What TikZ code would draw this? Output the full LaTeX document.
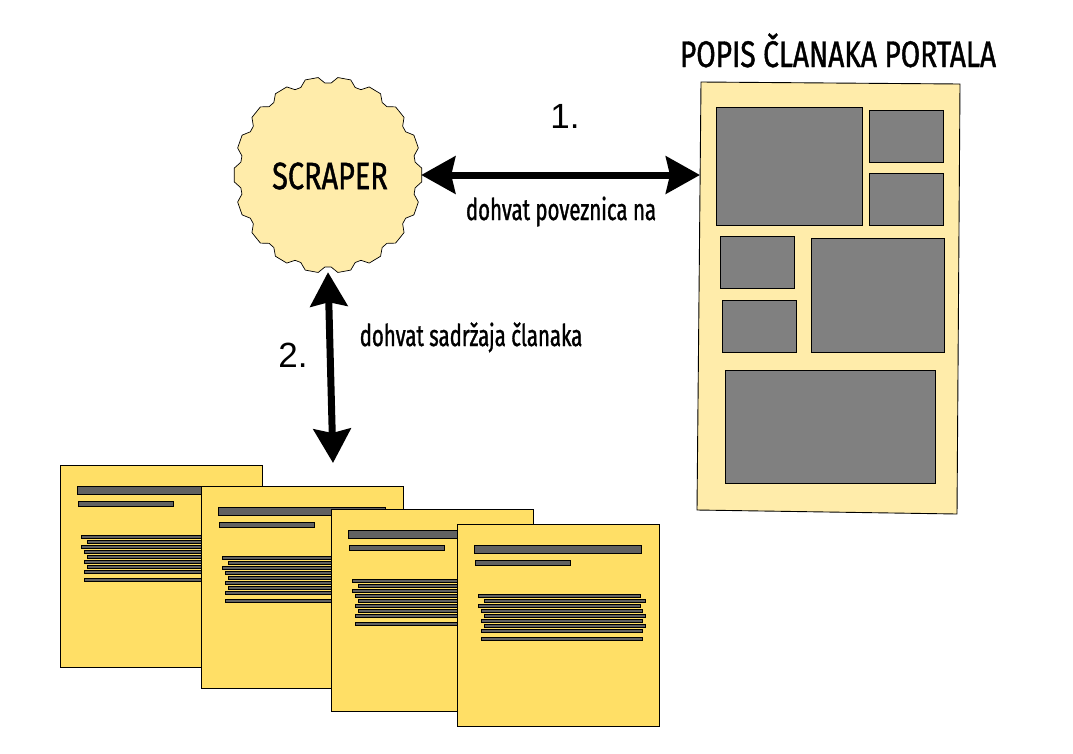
\documentclass[tikz,border=0pt]{standalone}
\usepackage{fontspec}
\usetikzlibrary{arrows.meta,shapes.geometric,calc}
\newfontfamily\headfont{Fira Sans}[FakeStretch=0.68,FakeBold=1.1]
\newfontfamily\capfont{Fira Sans}[FakeStretch=0.76,FakeBold=1.1]
\newfontfamily\numfont{Liberation Sans}
\definecolor{paleyellow}{HTML}{FFECAA}
\definecolor{docyellow}{HTML}{FFDF66}
\definecolor{blockgray}{HTML}{808080}
\definecolor{bargray}{HTML}{616161}

\tikzset{
  bigarrow/.style={line width=7pt,
    {Stealth[length=34pt,width=37pt,inset=4pt]}-{Stealth[length=34pt,width=37pt,inset=4pt]}},
  block/.style={draw=black, fill=blockgray, line width=0.9pt},
  pagebox/.style={draw=black, fill=docyellow, line width=1pt, minimum width=202pt,
    minimum height=202pt, anchor=north west, inner sep=0pt},
  bar/.style={draw=black, fill=bargray, line width=0.8pt},
  headtext/.style={font=\capfont\fontsize{37}{37}\selectfont, anchor=base, inner sep=0pt},
  smalltext/.style={font=\headfont\fontsize{30}{30}\selectfont, anchor=base, inner sep=0pt},
  numtext/.style={font=\numfont\fontsize{35}{35}\selectfont, anchor=base, inner sep=0pt},
}

% one article page with its title, subtitle and text lines
\newcommand{\docpage}[3]{%
  \node[pagebox] (#1) at (#2,#3) {};
  \begin{scope}[shift={(#1.north west)}]
    \draw[bar] (17,21) rectangle (184,29);
    \draw[bar] (18,36) rectangle (113,41);
    \foreach \ly/\la/\lb in {70/21/183, 75/27/188, 80/21/183, 85/24/185, 90/27/188,
                             95/24/185, 100/27/188, 105/24/185, 113/24/185}
      \draw[bar] (\la,\ly) rectangle (\lb,\ly+3);
  \end{scope}}

\begin{document}
\begin{tikzpicture}[x=1pt,y=-1pt]
\useasboundingbox (0,0) rectangle (1073,753);

% scraper: toothed disc
\draw[fill=paleyellow, line width=0.7pt] ({328+94*cos(-4)},{175+98*sin(-4)})
  \foreach \k in {0,...,17} {
    -- ({328+94*cos(\k*20+4)},{175+98*sin(\k*20+4)})
    -- ({328+88*cos(\k*20+8)},{175+92*sin(\k*20+8)})
    -- ({328+88*cos(\k*20+12)},{175+92*sin(\k*20+12)})
    -- ({328+94*cos(\k*20+16)},{175+98*sin(\k*20+16)})
  } -- cycle;
\node[ellipse, minimum width=186pt, minimum height=194pt, inner sep=0pt] (scraper) at (328,175) {};
\node[font=\capfont\fontsize{38}{38}\selectfont, inner sep=0pt] (scrapertext) at (330,176) {SCRAPER};

% article list page of the portal
\draw[fill=paleyellow, line width=0.9pt] (701,82) -- (960,84) -- (957,514) -- (697,510) -- cycle;
\node[minimum width=260pt, minimum height=430pt, anchor=north west, inner sep=0pt] (portal) at (700,82) {};
\draw[block] (716,107) rectangle (862,225);
\draw[block] (869,110) rectangle (943,162);
\draw[block] (869,173) rectangle (943,225);
\draw[block] (720,236) rectangle (794,288);
\draw[block] (722,300) rectangle (796,352);
\draw[block] (811,238) rectangle (944,352);
\draw[block] (725,370) rectangle (935,483);
\node[headtext] (portaltitle) at (838,67) {POPIS ČLANAKA PORTALA};

% fetched article pages
\docpage{pageA}{60}{465}
\docpage{pageB}{201}{486}
\docpage{pageC}{331}{509}
\docpage{pageD}{457}{524}

% connectors
\coordinate (docs) at (333,463);
\draw[bigarrow] (scraper.east) -- (scraper.east -| portal.west);
\draw[bigarrow] (scraper.south) -- (docs);

% labels
\node[numtext] (step1) at (565,128) {1.};
\node[numtext] (step2) at (293,367) {2.};
\node[smalltext] (lbl1) at (561,220) {dohvat poveznica na};
\node[smalltext] (lbl2) at (471,346) {dohvat sadržaja članaka};
\end{tikzpicture}
\end{document}
